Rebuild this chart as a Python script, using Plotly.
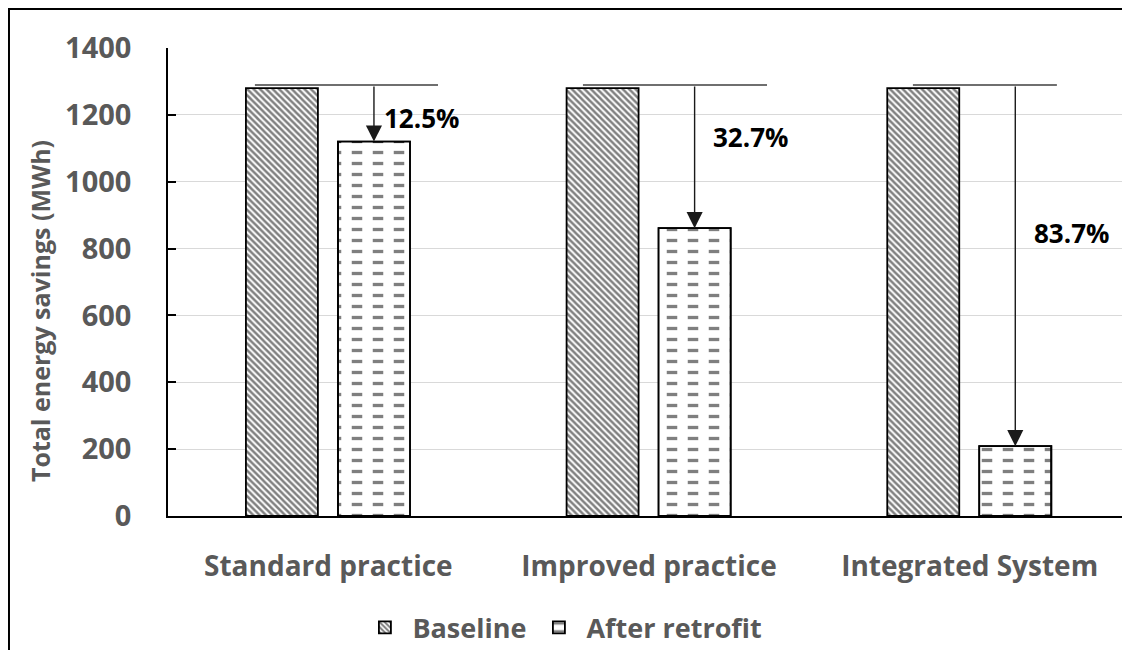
import plotly.graph_objects as go

# ---- data ----
categories = ["Standard practice", "Improved practice", "Integrated System"]
baseline = [1280, 1280, 1280]
after_retrofit = [1120, 861, 209]
savings_labels = ["12.5%", "32.7%", "83.7%"]
reference_level = [1289, 1289, 1289]
label_levels = [1190, 1134, 846]
y_ticks = [0, 200, 400, 600, 800, 1000, 1200, 1400]

# ---- style / position constants (category units) ----
BAR_W = 0.2245
BASE_OFF = -0.257
AFTER_OFF = 0.030
ARROW_DX = AFTER_OFF + BAR_W / 2
LINE_START = [-0.229, -0.206, -0.177]
LINE_END = [0.342, 0.368, 0.272]
LABEL_DX = [0.292, 0.318, 0.319]

FONT = "Open Sans"
GRAY = "#595959"

idx = list(range(len(categories)))

fig = go.Figure()

fig.add_trace(go.Bar(
    x=categories, y=baseline, name="Baseline",
    width=BAR_W, offset=BASE_OFF,
    marker=dict(color="white",
                line=dict(color="black", width=1.8),
                pattern=dict(shape="\\", fgcolor="black", bgcolor="white",
                             size=4.5, solidity=0.55)),
))

fig.add_trace(go.Bar(
    x=categories, y=after_retrofit, name="After retrofit",
    width=BAR_W, offset=AFTER_OFF,
    marker=dict(color="white",
                line=dict(color="black", width=1.8),
                pattern=dict(shape="-", fgcolor="black", bgcolor="white",
                             size=11, solidity=0.3)),
))

# white vertical stripes cut horizontal lines into dashes
fig.add_trace(go.Bar(
    x=categories, y=after_retrofit, name="After retrofit",
    width=BAR_W, offset=AFTER_OFF, showlegend=False, hoverinfo="skip",
    marker=dict(color="rgba(0,0,0,0)",
                line=dict(color="black", width=1.8),
                pattern=dict(shape="|", fgcolor="white", bgcolor="rgba(0,0,0,0)",
                             size=21, solidity=0.5, fillmode="replace")),
))

shapes = []
annotations = []
for i in idx:
    shapes.append(dict(type="line", xref="x", yref="y",
                       x0=i + LINE_START[i], x1=i + LINE_END[i],
                       y0=reference_level[i], y1=reference_level[i],
                       line=dict(color="#6f6f6f", width=2)))
    annotations.append(dict(x=i + ARROW_DX, y=after_retrofit[i],
                            ax=i + ARROW_DX, ay=reference_level[i],
                            xref="x", yref="y", axref="x", ayref="y",
                            text="", showarrow=True, arrowhead=2,
                            arrowsize=2.3, arrowwidth=1.4, arrowcolor="#1a1a1a",
                            standoff=0))
    annotations.append(dict(x=i + LABEL_DX[i], y=label_levels[i],
                            xref="x", yref="y", text=savings_labels[i],
                            showarrow=False,
                            font=dict(family=FONT, size=26, color="black",
                                      weight="bold")))

# y axis title as annotation
annotations.append(dict(x=-0.133, y=0.438, xref="paper", yref="paper",
                        xanchor="center", yanchor="middle",
                        text="Total energy savings (MWh)", textangle=-90,
                        showarrow=False,
                        font=dict(family=FONT, size=25, color=GRAY, weight="bold")))

# outer border
shapes.append(dict(type="rect", xref="paper", yref="paper",
                   x0=-0.1653, x1=1.05, y0=-0.4, y1=1.0833,
                   line=dict(color="black", width=2), fillcolor="rgba(0,0,0,0)",
                   layer="below"))

fig.update_layout(
    width=1122, height=642,
    margin=dict(l=160, r=0, t=40, b=134, autoexpand=False),
    paper_bgcolor="white", plot_bgcolor="white",
    barmode="overlay",
    font=dict(family=FONT, size=26, color=GRAY, weight="bold"),
    shapes=shapes, annotations=annotations,
    legend=dict(orientation="h", x=0.41, xanchor="center",
                y=-0.239, yanchor="middle",
                font=dict(family=FONT, size=27, color=GRAY, weight="bold"),
                itemwidth=45),
    xaxis=dict(type="category", range=[-0.5, 2.5], automargin=False,
               showline=True, linecolor="black", linewidth=1.5,
               showgrid=False, ticks="", ticklabelstandoff=25,
               tickfont=dict(family=FONT, size=28, color=GRAY, weight="bold")),
    yaxis=dict(range=[0, 1400], tickvals=y_ticks, automargin=False,
               showline=True, linecolor="black", linewidth=1.5,
               ticks="inside", ticklen=8, tickcolor="black", tickwidth=1.5,
               showgrid=True, gridcolor="#d9d9d9", gridwidth=1.2,
               zeroline=False, ticklabelstandoff=29,
               tickfont=dict(family=FONT, size=29, color=GRAY, weight="bold")),
)

fig.write_html("out.html")
